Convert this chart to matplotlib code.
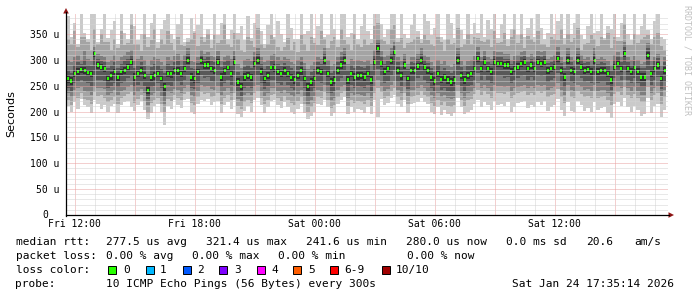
import matplotlib
matplotlib.use("Agg")
import matplotlib.pyplot as plt
import numpy as np
from matplotlib.ticker import MultipleLocator, FuncFormatter
from matplotlib.patches import Polygon, Rectangle
from matplotlib.lines import Line2D

# ---------------- data (values in microseconds) ----------------
start_hour = 11 + 35 / 60.0   # Fri 11:35, hours since Fri 00:00
step_hours = 10 / 60.0        # one column = 10 minutes

median = [264, 259, 273, 278, 281, 280, 275, 273, 312, 290,
          286, 283, 264, 270, 277, 267, 277, 280, 286, 296,
          267, 273, 280, 270, 241, 267, 270, 273, 264, 248,
          273, 273, 279, 279, 273, 283, 299, 267, 264, 277,
          299, 290, 290, 283, 280, 296, 267, 279, 285, 273,
          296, 257, 249, 267, 270, 267, 293, 299, 277, 264,
          270, 285, 285, 277, 273, 279, 273, 266, 262, 270,
          279, 264, 248, 257, 264, 280, 277, 299, 273, 257,
          261, 280, 290, 299, 261, 273, 267, 270, 270, 267,
          273, 261, 296, 322, 294, 277, 283, 299, 315, 280,
          270, 290, 264, 280, 280, 288, 299, 286, 280, 267,
          259, 273, 262, 267, 261, 257, 261, 299, 270, 261,
          270, 273, 283, 302, 283, 296, 283, 277, 296, 293,
          293, 290, 290, 277, 283, 286, 293, 296, 283, 290,
          283, 296, 293, 296, 280, 283, 286, 302, 280, 267,
          299, 280, 277, 299, 286, 280, 281, 277, 299, 277,
          280, 280, 273, 261, 286, 293, 283, 312, 283, 277,
          285, 277, 267, 267, 309, 273, 283, 290, 264, 280]

hi1 = [385, 345, 372, 330, 389, 352, 340, 389, 389, 335,
       360, 389, 342, 358, 375, 330, 389, 352, 340, 389,
       365, 338, 350, 389, 345, 372, 389, 335, 360, 378,
       389, 350, 340, 370, 389, 335, 342, 380, 355, 368,
       389, 345, 360, 338, 389, 348, 372, 389, 340, 357,
       389, 352, 365, 338, 385, 342, 372, 389, 355, 330,
       368, 389, 345, 376, 350, 335, 389, 362, 340, 340,
       389, 350, 356, 389, 342, 365, 389, 345, 348, 389,
       360, 338, 389, 389, 345, 352, 389, 340, 366, 389,
       356, 340, 389, 389, 370, 345, 360, 389, 389, 342,
       389, 350, 342, 368, 389, 355, 340, 389, 376, 348,
       362, 389, 345, 338, 389, 372, 342, 389, 358, 340,
       389, 350, 372, 352, 389, 345, 378, 360, 389, 342,
       370, 389, 340, 360, 389, 348, 389, 345, 362, 380,
       345, 389, 362, 340, 352, 389, 350, 375, 389, 342,
       389, 350, 372, 389, 348, 340, 366, 389, 352, 355,
       389, 342, 365, 360, 389, 345, 372, 389, 350, 338,
       389, 348, 366, 389, 358, 340, 375, 389, 345, 340]

hi2 = [340, 330, 355, 325, 345, 345, 335, 320, 360, 330,
       350, 335, 335, 320, 340, 322, 355, 328, 332, 370,
       330, 330, 318, 350, 325, 338, 360, 322, 340, 330,
       355, 332, 320, 345, 328, 326, 335, 340, 352, 326,
       345, 335, 350, 322, 348, 332, 338, 370, 330, 325,
       352, 340, 320, 315, 345, 336, 325, 362, 330, 322,
       330, 348, 340, 325, 318, 325, 342, 320, 335, 315,
       348, 330, 318, 345, 332, 328, 355, 340, 322, 336,
       345, 325, 360, 338, 330, 320, 350, 330, 325, 340,
       328, 332, 365, 372, 340, 336, 330, 360, 368, 335,
       342, 322, 332, 335, 340, 345, 332, 348, 338, 330,
       326, 345, 335, 318, 340, 330, 332, 362, 325, 330,
       350, 330, 345, 342, 336, 335, 340, 325, 355, 332,
       335, 352, 326, 345, 360, 332, 350, 322, 346, 340,
       335, 355, 330, 330, 325, 345, 340, 338, 360, 330,
       350, 335, 342, 362, 320, 330, 332, 348, 340, 326,
       345, 338, 352, 322, 345, 336, 336, 370, 328, 328,
       350, 332, 340, 345, 348, 330, 345, 352, 326, 320]

hi3 = [300, 295, 305, 310, 300, 318, 302, 298, 325, 312,
       308, 305, 296, 300, 310, 298, 305, 310, 315, 320,
       298, 302, 308, 300, 290, 300, 305, 302, 296, 290,
       305, 300, 308, 312, 300, 310, 322, 298, 295, 305,
       320, 312, 315, 308, 305, 318, 298, 306, 310, 302,
       318, 292, 285, 300, 302, 298, 315, 322, 305, 296,
       300, 310, 312, 305, 300, 306, 302, 296, 292, 300,
       305, 294, 282, 290, 296, 305, 302, 322, 300, 288,
       292, 305, 315, 322, 292, 302, 298, 300, 298, 296,
       300, 292, 320, 340, 318, 305, 310, 322, 335, 305,
       298, 312, 292, 305, 305, 312, 322, 310, 305, 296,
       288, 300, 292, 298, 290, 286, 292, 322, 298, 290,
       298, 300, 308, 325, 306, 318, 305, 302, 318, 315,
       315, 312, 312, 300, 308, 310, 315, 318, 305, 312,
       305, 318, 315, 318, 302, 305, 310, 325, 305, 295,
       322, 305, 300, 322, 310, 302, 305, 300, 322, 302,
       305, 302, 298, 290, 310, 315, 306, 335, 306, 300,
       308, 300, 292, 295, 332, 298, 306, 312, 290, 305]

hi4 = [280, 275, 290, 295, 292, 300, 290, 288, 318, 302,
       298, 296, 285, 290, 295, 285, 292, 298, 302, 310,
       285, 290, 295, 288, 272, 286, 292, 290, 282, 275,
       292, 288, 295, 298, 288, 298, 312, 285, 282, 294,
       310, 302, 305, 298, 295, 308, 286, 295, 300, 290,
       308, 276, 270, 286, 290, 284, 305, 312, 292, 282,
       288, 298, 300, 292, 288, 294, 290, 284, 280, 288,
       295, 282, 268, 276, 282, 295, 292, 312, 288, 275,
       280, 295, 305, 312, 280, 290, 285, 288, 286, 284,
       290, 280, 310, 332, 306, 292, 298, 312, 326, 295,
       286, 302, 282, 295, 294, 302, 312, 300, 294, 284,
       276, 290, 280, 285, 278, 274, 280, 312, 286, 278,
       288, 290, 298, 315, 298, 308, 296, 292, 308, 305,
       305, 302, 302, 292, 298, 300, 306, 308, 296, 302,
       296, 308, 306, 310, 294, 296, 300, 315, 294, 284,
       312, 295, 290, 312, 300, 294, 296, 290, 312, 292,
       295, 294, 288, 280, 300, 306, 296, 325, 296, 290,
       298, 290, 284, 285, 322, 288, 298, 304, 280, 295]

hi5 = [270, 266, 280, 284, 286, 287, 281, 280, 316, 296,
       292, 288, 271, 276, 283, 274, 282, 287, 292, 302,
       274, 279, 286, 277, 250, 273, 277, 279, 270, 256,
       279, 280, 285, 286, 279, 289, 305, 274, 270, 283,
       305, 296, 297, 289, 286, 302, 274, 285, 291, 280,
       302, 264, 256, 274, 277, 273, 299, 305, 284, 270,
       277, 291, 292, 283, 279, 286, 280, 272, 269, 277,
       286, 270, 256, 264, 270, 287, 283, 305, 280, 264,
       268, 287, 297, 305, 268, 279, 274, 277, 276, 274,
       280, 268, 302, 328, 300, 284, 290, 305, 320, 287,
       277, 296, 271, 286, 287, 294, 305, 292, 287, 274,
       266, 280, 269, 273, 268, 264, 268, 305, 277, 268,
       277, 279, 290, 308, 290, 302, 289, 284, 302, 299,
       299, 296, 297, 284, 289, 293, 299, 302, 290, 296,
       290, 302, 299, 302, 287, 290, 292, 308, 287, 274,
       305, 287, 284, 305, 292, 287, 288, 284, 305, 284,
       287, 286, 280, 268, 292, 299, 290, 318, 290, 284,
       291, 284, 274, 274, 315, 280, 289, 296, 271, 287]

lo5 = [256, 252, 266, 271, 274, 272, 268, 266, 305, 283,
       279, 276, 257, 262, 270, 260, 270, 272, 279, 289,
       260, 266, 272, 263, 234, 260, 262, 266, 257, 240,
       266, 265, 272, 271, 266, 276, 292, 260, 256, 270,
       292, 283, 282, 276, 272, 289, 260, 271, 278, 266,
       289, 250, 242, 259, 263, 260, 286, 292, 270, 256,
       263, 278, 277, 270, 266, 271, 266, 259, 254, 263,
       271, 257, 240, 250, 257, 272, 270, 292, 266, 249,
       254, 272, 283, 292, 253, 266, 260, 262, 263, 260,
       266, 253, 289, 315, 287, 270, 276, 292, 308, 273,
       262, 283, 257, 273, 272, 281, 292, 279, 272, 260,
       251, 266, 255, 260, 254, 250, 253, 292, 263, 254,
       263, 266, 276, 295, 276, 289, 276, 270, 289, 286,
       286, 283, 282, 270, 276, 279, 286, 289, 276, 283,
       276, 289, 286, 289, 273, 276, 279, 295, 273, 260,
       292, 273, 270, 292, 279, 272, 274, 270, 292, 270,
       273, 272, 266, 254, 279, 286, 276, 305, 276, 270,
       278, 270, 260, 260, 302, 266, 276, 283, 257, 273]

lo4 = [246, 240, 255, 258, 262, 258, 255, 250, 270, 262,
       262, 260, 245, 250, 256, 248, 255, 258, 265, 268,
       248, 252, 258, 250, 225, 248, 250, 255, 245, 228,
       252, 250, 258, 258, 252, 262, 270, 246, 244, 255,
       270, 265, 266, 260, 258, 268, 248, 256, 262, 252,
       270, 238, 230, 246, 250, 246, 268, 270, 256, 244,
       250, 262, 262, 256, 252, 258, 252, 246, 242, 250,
       258, 245, 228, 238, 245, 258, 256, 270, 252, 236,
       240, 258, 265, 270, 240, 252, 246, 250, 248, 246,
       252, 240, 268, 282, 268, 255, 260, 270, 280, 258,
       250, 266, 244, 258, 258, 264, 270, 262, 256, 246,
       240, 252, 242, 246, 240, 238, 240, 270, 250, 240,
       250, 252, 262, 275, 262, 270, 262, 256, 270, 268,
       268, 265, 266, 256, 262, 264, 268, 270, 262, 266,
       262, 270, 268, 270, 258, 262, 264, 275, 258, 248,
       270, 258, 256, 270, 264, 258, 260, 256, 270, 256,
       258, 258, 252, 242, 264, 268, 262, 280, 262, 256,
       264, 256, 248, 248, 280, 252, 262, 266, 244, 258]

lo3 = [235, 228, 242, 245, 248, 240, 238, 232, 250, 245,
       246, 244, 232, 236, 242, 232, 240, 242, 248, 252,
       232, 238, 244, 236, 212, 232, 236, 240, 230, 215,
       238, 235, 244, 242, 236, 246, 252, 232, 228, 240,
       252, 248, 250, 244, 242, 250, 232, 240, 246, 236,
       250, 225, 218, 232, 236, 232, 250, 252, 240, 230,
       236, 246, 246, 240, 236, 242, 236, 232, 228, 234,
       242, 230, 214, 222, 230, 242, 240, 252, 236, 222,
       226, 242, 248, 252, 226, 236, 232, 234, 232, 230,
       236, 226, 250, 262, 250, 240, 244, 252, 260, 242,
       236, 248, 230, 242, 242, 246, 252, 246, 240, 232,
       226, 236, 228, 232, 226, 224, 226, 252, 236, 226,
       236, 238, 246, 256, 246, 252, 246, 240, 252, 250,
       250, 248, 250, 240, 246, 248, 250, 252, 246, 250,
       246, 252, 250, 252, 242, 246, 248, 256, 242, 232,
       252, 242, 240, 252, 248, 242, 244, 240, 252, 240,
       242, 242, 236, 228, 248, 250, 246, 262, 246, 240,
       248, 240, 232, 232, 262, 236, 246, 250, 230, 242]

lo2 = [222, 212, 230, 226, 236, 225, 222, 214, 238, 230,
       232, 226, 218, 222, 228, 215, 226, 230, 234, 238,
       216, 224, 232, 220, 198, 216, 222, 226, 214, 200,
       224, 220, 232, 226, 222, 234, 238, 216, 212, 228,
       238, 234, 236, 228, 230, 236, 215, 226, 232, 222,
       236, 210, 205, 218, 222, 216, 236, 240, 226, 214,
       222, 232, 234, 226, 220, 230, 222, 216, 212, 220,
       228, 214, 200, 208, 216, 228, 226, 238, 222, 206,
       212, 228, 236, 240, 210, 222, 216, 220, 218, 214,
       222, 210, 236, 246, 238, 226, 230, 240, 246, 228,
       222, 236, 214, 228, 230, 232, 240, 232, 228, 216,
       210, 222, 212, 218, 210, 208, 212, 240, 222, 210,
       222, 224, 234, 242, 232, 240, 234, 226, 240, 236,
       236, 234, 238, 226, 232, 236, 238, 240, 232, 236,
       232, 240, 236, 240, 228, 232, 234, 244, 228, 216,
       240, 228, 226, 240, 234, 228, 230, 226, 240, 226,
       228, 230, 222, 212, 234, 238, 232, 248, 232, 226,
       234, 226, 218, 218, 248, 222, 232, 236, 214, 228]

lo1 = [210, 200, 218, 205, 224, 212, 208, 198, 222, 215,
       205, 212, 200, 210, 215, 198, 212, 218, 220, 208,
       202, 212, 220, 204, 185, 198, 210, 214, 200, 175,
       210, 205, 222, 212, 206, 222, 224, 200, 196, 215,
       222, 220, 224, 212, 218, 220, 198, 212, 218, 205,
       222, 195, 190, 202, 210, 200, 222, 226, 212, 198,
       208, 220, 222, 212, 206, 218, 208, 200, 196, 205,
       214, 198, 186, 192, 200, 215, 212, 222, 208, 192,
       198, 214, 222, 228, 195, 208, 200, 205, 204, 198,
       208, 195, 222, 190, 225, 212, 216, 226, 232, 214,
       208, 222, 198, 214, 216, 218, 226, 218, 214, 200,
       196, 208, 194, 204, 195, 192, 198, 226, 208, 195,
       200, 204, 214, 222, 208, 218, 212, 204, 220, 212,
       214, 210, 218, 200, 208, 216, 218, 220, 206, 212,
       208, 218, 212, 220, 202, 208, 212, 224, 204, 192,
       218, 202, 200, 220, 212, 202, 206, 200, 218, 204,
       206, 208, 198, 188, 214, 218, 210, 226, 208, 200,
       210, 204, 192, 196, 226, 198, 210, 214, 190, 204]

x_tick_hours = [12, 18, 24, 30, 36]
x_tick_labels = ["Fri 12:00", "Fri 18:00", "Sat 00:00", "Sat 06:00", "Sat 12:00"]

loss_labels = ["0", "1", "2", "3", "4", "5", "6-9", "10/10"]
loss_colors = ["#26ff00", "#00b8ff", "#0059ff", "#7e00ff", "#ff00ff",
               "#ff5e00", "#ff0000", "#a00000"]

stats_rtt = ["277.5 us avg", "321.4 us max", "241.6 us min", "280.0 us now",
             "0.0 ms sd", "20.6", "am/s"]
stats_loss = ["0.00 % avg", "0.00 % max", "0.00 % min", "0.00 % now"]
probe_text = "10 ICMP Echo Pings (56 Bytes) every 300s"
stamp_text = "Sat Jan 24 17:35:14 2026"

# ---------------- figure ----------------
W, H = 697, 297
fig = plt.figure(figsize=(W / 100, H / 100), dpi=100)
fig.patch.set_facecolor("white")

def fx(px):
    return px / W

def fy(py):
    return 1 - py / H

ax_l, ax_r, ax_b, ax_t = 66, 668, 215, 13.5
ax = fig.add_axes([fx(ax_l), fy(ax_b), (ax_r - ax_l) / W, (ax_b - ax_t) / H])
ax.set_facecolor("white")

n = len(median)
edges = start_hour + step_hours * np.arange(n + 1)
centers = edges[:-1] + step_hours / 2

def ext(a):
    a = np.asarray(a, dtype=float)
    return np.r_[a, a[-1]]

layers = [(lo1, hi1, "#cacaca"), (lo2, hi2, "#a4a4a4"), (lo3, hi3, "#7e7e7e"),
          (lo4, hi4, "#585858"), (lo5, hi5, "#323232")]
for lo, hi, c in layers:
    ax.fill_between(edges, ext(lo), ext(hi), step="post", color=c,
                    linewidth=0, antialiased=False, zorder=1)

med = np.asarray(median, dtype=float)
ax.bar(centers, 6.4, bottom=med - 3.2, width=step_hours * 0.62, align="center",
       color=loss_colors[0], linewidth=0, antialiased=False, zorder=1.5)

ax.set_xlim(start_hour - 0.0167, start_hour + (ax_r - ax_l) / 20.0 - 0.0167)
ax.set_ylim(0, (ax_b - ax_t) / (181.0 / 350.0))

ax.xaxis.set_major_locator(MultipleLocator(3))
ax.xaxis.set_minor_locator(MultipleLocator(1))
ax.yaxis.set_major_locator(MultipleLocator(50))
ax.yaxis.set_minor_locator(MultipleLocator(10))

def xfmt(v, pos):
    h = int(round(v))
    if h in x_tick_hours:
        return x_tick_labels[x_tick_hours.index(h)]
    return ""

def yfmt(v, pos):
    if v > 360 or v == 0:
        return ""
    return "%d u" % v

ax.xaxis.set_major_formatter(FuncFormatter(xfmt))
ax.yaxis.set_major_formatter(FuncFormatter(yfmt))

ax.grid(which="minor", color="#d2d2d2", linewidth=0.72, linestyle=(0, (1, 1)))
ax.grid(which="major", color="#e8a0a0", linewidth=0.72, linestyle=(0, (1, 1)))
ax.set_axisbelow(False)

ax.tick_params(which="both", length=0)
ax.tick_params(axis="y", pad=5, labelsize=7)
ax.tick_params(axis="x", pad=3, labelsize=7)
for lab in ax.get_xticklabels() + ax.get_yticklabels():
    lab.set_family("DejaVu Sans Mono")

for s in ax.spines.values():
    s.set_visible(False)

# zero label sits in the digit column, as rrdtool pads it
fig.text(fx(48), fy(215), "0", ha="right", va="center", fontsize=7,
         family="DejaVu Sans Mono")

# axes lines with arrows
fig.add_artist(Line2D([fx(66), fx(66)], [fy(215.5), fy(12)], color="black", lw=0.9))
fig.add_artist(Line2D([fx(65.5), fx(669)], [fy(215), fy(215)], color="black", lw=0.9))
arrow_c = "#901515"
fig.add_artist(Polygon([[fx(66), fy(8)], [fx(63.2), fy(13.5)], [fx(68.8), fy(13.5)]],
                       closed=True, color=arrow_c, lw=0))
fig.add_artist(Polygon([[fx(674), fy(215)], [fx(668.5), fy(212.2)], [fx(668.5), fy(217.8)]],
                       closed=True, color=arrow_c, lw=0))

fig.text(fx(11), fy(113.5), "Seconds", rotation=90, ha="center", va="center",
         fontsize=8, family="DejaVu Sans")
fig.text(fx(687), fy(60), "RRDTOOL / TOBI OETIKER", rotation=270, ha="center",
         va="center", fontsize=6, color="#c0c0c0", family="DejaVu Sans Mono")

mono = dict(fontsize=8, family="DejaVu Sans Mono", ha="left", va="baseline")
fig.text(fx(15.5), fy(245), "median rtt:", **mono)
for s, px in zip(stats_rtt, [107, 207, 306.5, 406.5, 506.5, 586.5, 635]):
    fig.text(fx(px - 0.5), fy(245), s, **mono)
fig.text(fx(15.5), fy(259), "packet loss:", **mono)
for s, px in zip(stats_loss, [107, 193, 279, 408]):
    fig.text(fx(px - 0.5), fy(259), s, **mono)
fig.text(fx(15.5), fy(273), "loss color:", **mono)
box_x = [108.3, 145.7, 182.7, 219.3, 256.7, 293.3, 330, 381.7]
for bx, lab, c in zip(box_x, loss_labels, loss_colors):
    fig.add_artist(Rectangle((fx(bx), fy(273.5)), 8 / W, 8 / H, facecolor=c,
                             edgecolor="black", lw=0.7))
    fig.text(fx(bx + 14.5), fy(273), lab, **mono)
fig.text(fx(15.5), fy(287), "probe:", **mono)
fig.text(fx(106.5), fy(287), probe_text, **mono)
fig.text(fx(512.5), fy(287), stamp_text, **mono)

fig.savefig("out.png", dpi=100, facecolor="white")
